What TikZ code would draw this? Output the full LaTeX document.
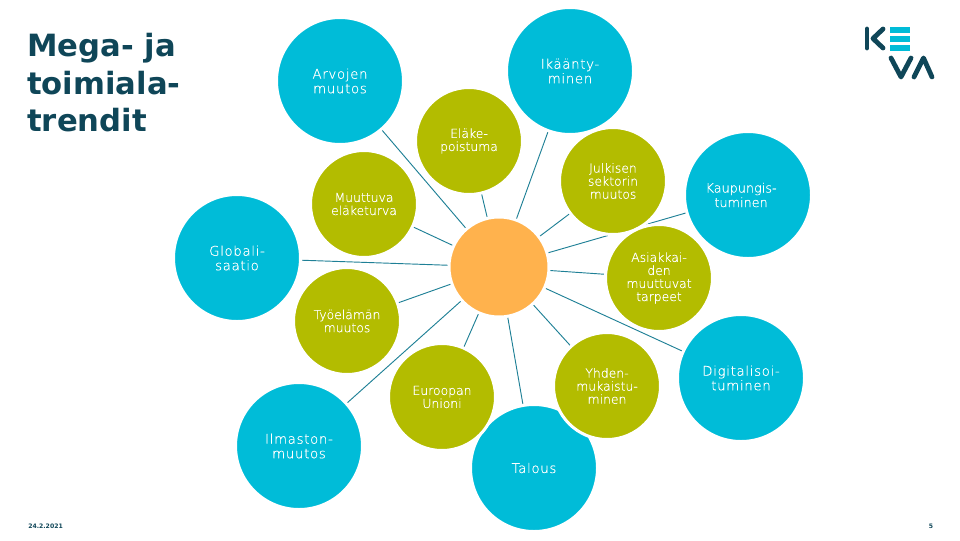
\documentclass[tikz,border=0pt]{standalone}
\usepackage{fontspec}
\usepackage{xcolor}
\usetikzlibrary{backgrounds}
\setmainfont{DejaVu Sans}
\newfontfamily\thinfont[FakeBold=0.5]{DejaVu Sans ExtraLight}
\newfontfamily\widefont[LetterSpace=5,FakeBold=0.5]{DejaVu Sans ExtraLight}
\definecolor{kevacyan}{HTML}{00BCD8}
\definecolor{kevaolive}{HTML}{B3BC00}
\definecolor{kevaorange}{HTML}{FFB24D}
\definecolor{kevadark}{HTML}{0F4658}
\definecolor{spokeblue}{HTML}{1F8096}

\begin{document}
\begin{tikzpicture}[
        x=0.75pt, y=-0.75pt,
        bubble/.style = {draw=white, circle, line width=2.25pt, inner sep=0pt, align=center, text=white},
        bigbubble/.style = {bubble, fill=kevacyan, minimum size=95.25pt, font=\widefont\fontsize{10}{10.9}\selectfont},
        midbubble/.style = {bubble, fill=kevaolive, minimum size=80.25pt, font=\thinfont\fontsize{9.3}{9.8}\selectfont},
        hub/.style = {bubble, fill=kevaorange, minimum size=75pt},
        spoke/.style = {draw=spokeblue, line width=0.7pt},
        footer/.style = {text=kevadark, font=\fontsize{4.6}{5}\bfseries\selectfont, inner sep=0pt},
        logobar/.style = {draw=kevadark, line width=3.6pt, line cap=round, line join=round}
    ]
        \useasboundingbox (0,0) rectangle (960,540);

        % Title
        \node (title) [anchor=north west, align=left, inner sep=0pt, text=kevadark, font=\fontsize{23}{28.2}\bfseries\selectfont] at (27,33) {Mega- ja\\toimiala-\\trendit};

        % Central Node
        \node (center) [hub] at (499,267) {};

        % Outer bubbles
        \node (ageing) [bigbubble] at (570,71) {Ikäänty-\\minen};
        \node (values) [bigbubble] at (340,81) {Arvojen\\muutos};
        \node (urban) [bigbubble, label={[xshift=-5.2pt, text=white, align=center, font=\thinfont\fontsize{9.6}{10.9}\selectfont]center:Kaupungis-\\tuminen}] at (748,195) {};
        \node (global) [bigbubble] at (237,258) {Globali-\\saatio};
        \node (digital) [bigbubble] at (741,378) {Digitalisoi-\\tuminen};
        \node (climate) [bigbubble] at (299,446) {Ilmaston-\\muutos};
        \node (economy) [bigbubble] at (534,468) {Talous};

        % Inner bubbles
        \node (retire) [midbubble] at (469,141) {Eläke-\\poistuma};
        \node (public) [midbubble] at (613,181) {Julkisen\\sektorin\\muutos};
        \node (pension) [midbubble] at (364,204) {Muuttuva\\eläketurva};
        \node (customer) [midbubble] at (659,278) {Asiakkai-\\den\\muuttuvat\\tarpeet};
        \node (worklife) [midbubble] at (347,321) {Työelämän\\muutos};
        \node (equality) [midbubble] at (607,386) {Yhden-\\mukaistu-\\minen};
        \node (europe) [midbubble] at (442,397) {Euroopan\\Unioni};

        % Connections
        \begin{scope}[on background layer]
            \draw [spoke] (center.center) -- (ageing.center);
            \draw [spoke] (center.center) -- (values.center);
            \draw [spoke] (center.center) -- (urban.center);
            \draw [spoke] (center.center) -- (global.center);
            \draw [spoke] (center.center) -- (digital.center);
            \draw [spoke] (center.center) -- (climate.center);
            \draw [spoke] (center.center) -- (economy.center);
            \draw [spoke] (center.center) -- (retire.center);
            \draw [spoke] (center.center) -- (public.center);
            \draw [spoke] (center.center) -- (pension.center);
            \draw [spoke] (center.center) -- (customer.center);
            \draw [spoke] (center.center) -- (worklife.center);
            \draw [spoke] (center.center) -- (equality.center);
            \draw [spoke] (center.center) -- (europe.center);
        \end{scope}

        % Logo
        \draw [logobar, line join=miter] (867,29) -- (867,48);
        \draw [logobar] (883,29) -- (873,38.5) -- (883,48);
        \fill [kevacyan] (890,26.5) rectangle (910,32.5);
        \fill [kevacyan] (890,35.5) rectangle (910,41.5);
        \fill [kevacyan] (890,44.5) rectangle (910,50.5);
        \draw [logobar] (891,58) -- (901,77) -- (911,58);
        \draw [logobar] (914,77) -- (923.5,58) -- (932,77);

        % Footer
        \node (date) [footer, anchor=west] at (28,526) {24.2.2021};
        \node (page) [footer] at (931,526) {5};

    \end{tikzpicture}
\end{document}
